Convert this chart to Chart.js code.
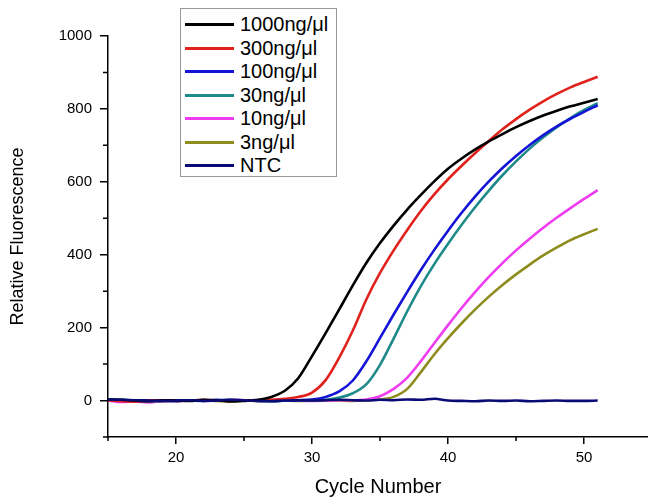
<!DOCTYPE html>
<html>
<head>
<meta charset="utf-8">
<script src="https://cdn.jsdelivr.net/npm/chart.js@4.4.1/dist/chart.umd.min.js"></script>
<style>
  html, body { margin: 0; padding: 0; background: #fff; }
  #wrap { position: relative; width: 648px; height: 500px; }
  #legend {
    position: absolute; left: 180px; top: 8px; width: 157px; height: 169px;
    border: 1px solid #9a9a9a; box-sizing: border-box; background: #fff;
    padding-top: 4px; font-family: "Liberation Sans", Arial, sans-serif;
  }
  .row { display: flex; align-items: center; height: 23.5px; }
  .swatch { width: 49px; height: 3px; margin-left: 4px; }
  .label { margin-left: 6px; font-size: 20px; color: #000; }
</style>
</head>
<body>
<div id="wrap">
  <canvas id="pcrChart" width="648" height="500"></canvas>
  <div id="legend"></div>
</div>
<script>
const cycles = [15, 16, 17, 18, 19, 20, 21, 22, 23, 24, 25, 26, 27, 28, 29, 30, 31, 32, 33,
    34, 35, 36, 37, 38, 39, 40, 41, 42, 43, 44, 45, 46, 47, 48, 49, 50, 51];

const seriesNames = ["1000ng/μl", "300ng/μl", "100ng/μl", "30ng/μl", "10ng/μl", "3ng/μl", "NTC"];

const conc1000 = [3, 2, 0, -2, 1, 0, -1, 2, 1, -2, -1, 2, 10, 27, 62, 122, 185, 250, 316, 378,
    432, 480, 524, 564, 602, 636, 664, 689, 711, 731, 750, 767, 782, 795, 807, 817, 827];
const conc300 = [1, -2, -3, 0, 1, -1, 0, 2, 0, -1, 1, 0, 2, 5, 10, 22, 56, 118, 192, 278,
    350, 412, 468, 520, 566, 607, 644, 679, 712, 744, 772, 798, 821, 841, 859, 874, 888];
const conc100 = [2, 0, -1, 1, 0, -2, 1, 0, 2, -1, 0, 1, -1, 0, 1, 3, 10, 25, 55, 108,
    172, 236, 298, 358, 414, 466, 515, 560, 601, 638, 671, 701, 728, 752, 773, 792, 810];
const conc30 = [1, 2, 0, -2, -1, 1, 0, -1, 1, 2, 0, -1, -2, 0, 1, 0, 2, 8, 20, 45,
    98, 170, 245, 314, 375, 430, 482, 531, 576, 618, 656, 691, 722, 750, 775, 797, 816];
const conc10 = [0, -4, -3, -5, -2, 0, 1, -1, 0, 2, 1, -1, 0, 1, 0, -1, 0, 1, 1, 3,
    12, 32, 63, 108, 158, 207, 254, 298, 339, 377, 412, 444, 474, 502, 528, 553, 577];
const conc3 = [2, 1, -1, 0, -2, -1, 0, 1, -1, -3, 0, -1, 1, 0, -1, 0, 1, 0, -1, 1,
    3, 10, 32, 78, 127, 171, 212, 250, 285, 317, 346, 373, 398, 420, 440, 456, 471];
const ntc = [3, 2, 1, 0, -1, 0, 1, -1, 0, 2, 1, -1, -2, 0, 1, 0, 1, 2, 1, 0,
    2, 1, 3, 2, 5, 0, -1, -2, 0, -1, 0, -2, -1, 0, -1, -1, 0];

const xTicks = [20, 30, 40, 50];
const xMinor = [15, 25, 35, 45];
const yTicks = [0, 200, 400, 600, 800, 1000];
const yMinor = [-100, 100, 300, 500, 700, 900];

const seriesData = [conc1000, conc300, conc100, conc30, conc10, conc3, ntc];
const colors = ["#000000", "#e0221d", "#1414d6", "#1f8a8a", "#f03cf0", "#8e8c1e", "#0b0b78"];

const font = "'Liberation Sans', Arial, sans-serif";

// short minor ticks between the labelled ones
const minorTicks = {
    id: "minorTicks",
    afterDraw(chart) {
        const { ctx, scales: { x, y } } = chart;
        ctx.save();
        ctx.strokeStyle = "#000";
        ctx.lineWidth = 1.5;
        ctx.beginPath();
        xMinor.forEach(v => {
            const px = x.getPixelForValue(v);
            ctx.moveTo(px, y.bottom);
            ctx.lineTo(px, y.bottom + 4);
        });
        yMinor.forEach(v => {
            const py = y.getPixelForValue(v);
            ctx.moveTo(x.left, py);
            ctx.lineTo(x.left - 5, py);
        });
        ctx.stroke();
        ctx.restore();
    }
};

new Chart(document.getElementById("pcrChart"), {
    type: "line",
    data: {
        labels: cycles,
        datasets: seriesData.map((vals, i) => ({
            label: seriesNames[i],
            data: vals.map((v, j) => ({ x: cycles[j], y: v })),
            borderColor: colors[i],
            borderWidth: 2.6,
            pointRadius: 0,
            fill: false,
            cubicInterpolationMode: "monotone",
            order: i === 6 ? 0 : 1
        }))
    },
    options: {
        responsive: false,
        animation: false,
        layout: { padding: { top: 36, right: 0, left: 0, bottom: 1 } },
        plugins: { legend: { display: false }, tooltip: { enabled: false } },
        scales: {
            x: {
                type: "linear",
                min: 15,
                max: 54.7,
                afterFit: s => { s.height = 62; },
                afterBuildTicks: s => { s.ticks = xTicks.map(v => ({ value: v })); },
                grid: { drawOnChartArea: false, tickLength: 7, color: "#000", lineWidth: 1.5 },
                border: { display: true, color: "#000", width: 1.5 },
                ticks: {
                    autoSkip: false, maxRotation: 0, padding: 5, color: "#000",
                    font: { family: font, size: 15 },
                    callback: v => String(v)
                },
                title: {
                    display: true, text: "Cycle Number", color: "#000",
                    font: { family: font, size: 20 }, padding: { top: 0, bottom: 0 }
                }
            },
            y: {
                min: -100,
                max: 1000,
                afterFit: s => { s.width = 108; },
                afterBuildTicks: s => { s.ticks = yTicks.map(v => ({ value: v })); },
                grid: { drawOnChartArea: false, tickLength: 8, color: "#000", lineWidth: 1.5 },
                border: { display: true, color: "#000", width: 1.5 },
                ticks: {
                    padding: 8, color: "#000",
                    font: { family: font, size: 15 },
                    callback: v => String(v)
                },
                title: {
                    display: true, text: "Relative Fluorescence", color: "#000",
                    font: { family: font, size: 18 }, padding: { top: 7, bottom: 0 }
                }
            }
        }
    },
    plugins: [minorTicks]
});

const legendEl = document.getElementById("legend");
seriesNames.forEach((name, i) => {
    const row = document.createElement("div");
    row.className = "row";
    row.innerHTML = '<span class="swatch" style="background:' + colors[i] + '"></span>' +
        '<span class="label">' + name + '</span>';
    legendEl.appendChild(row);
});
</script>
</body>
</html>
